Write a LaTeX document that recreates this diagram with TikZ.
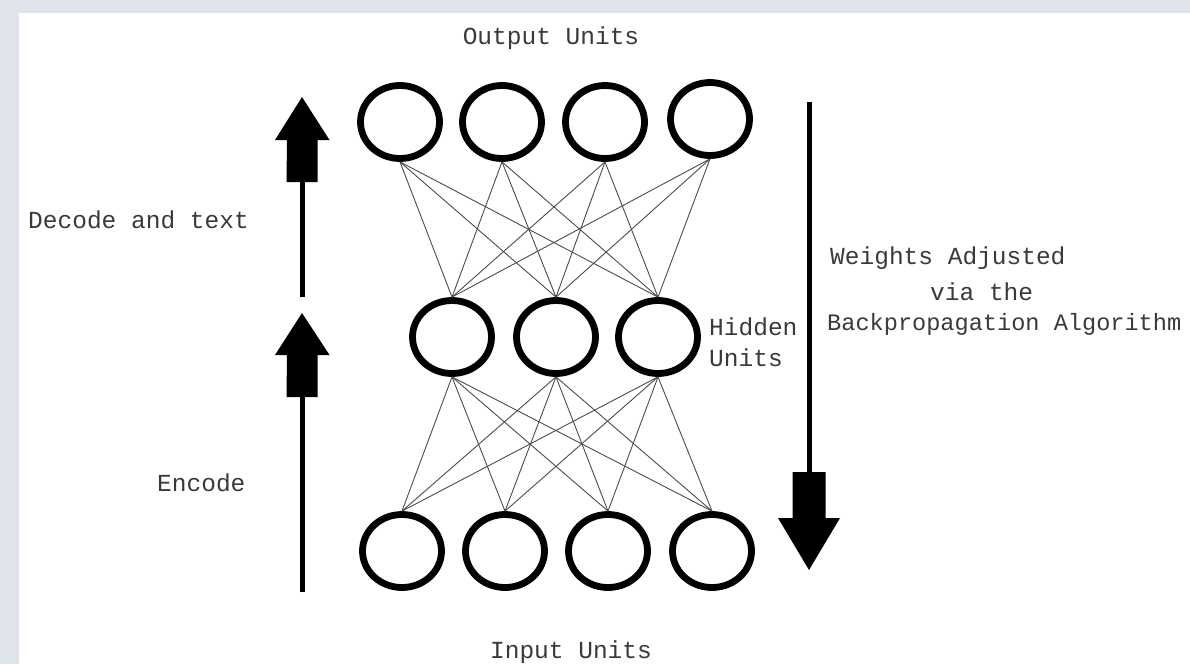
\documentclass[tikz,border=0pt]{standalone}
\usepackage{fontspec}
\setmonofont{Liberation Mono}
\usetikzlibrary{shapes.geometric}
\definecolor{frame}{HTML}{DFE3EC}
\definecolor{txt}{HTML}{3A3A3A}
\tikzset{
  unit/.style={ellipse, draw=black, line width=6.8pt, minimum width=79pt, minimum height=73pt, inner sep=0pt},
  wire/.style={draw=black!70, line width=0.9pt},
  shaft/.style={draw=black, line width=5pt},
  lbl/.style={font=\ttfamily\fontsize{24.5}{28}\selectfont, text=txt, inner sep=0pt},
}
\begin{document}
\begin{tikzpicture}[x=1pt,y=-1pt]
\useasboundingbox (0,0) rectangle (1190,664);
\clip (0,0) rectangle (1190,664);
\fill[frame] (0,0) rectangle (1190,664);
\fill[white] (19,13) rectangle (1190,664);

% units
\node[unit] (o1) at (400,122) {};
\node[unit] (o2) at (502,122) {};
\node[unit] (o3) at (605,122) {};
\node[unit] (o4) at (710,119) {};
\node[unit] (h1) at (452,337) {};
\node[unit] (h2) at (556,337) {};
\node[unit] (h3) at (658,337) {};
\node[unit] (i1) at (402,551) {};
\node[unit] (i2) at (505,551) {};
\node[unit] (i3) at (608,551) {};
\node[unit] (i4) at (712,551) {};

% connections
\foreach \o in {o1,o2,o3,o4}{
  \foreach \h in {h1,h2,h3}{
    \draw[wire] (\o.south) -- (\h.north);
  }
}
\foreach \h in {h1,h2,h3}{
  \foreach \i in {i1,i2,i3,i4}{
    \draw[wire] (\h.south) -- (\i.north);
  }
}

% left arrows
\coordinate (a1s) at (302,297);
\coordinate (a1e) at (302,182);
\draw[shaft] (a1s) -- (a1e);
\fill[black] (a1e) ++(-15.5,0) -- ++(31,0) -- ++(0,-42) -- ++(12,0) -- (302,97) -- (275,140) -- ++(12,0) -- cycle;

\coordinate (a2s) at (302,592);
\coordinate (a2e) at (302,397);
\draw[shaft] (a2s) -- (a2e);
\fill[black] (a2e) ++(-15.5,0) -- ++(31,0) -- ++(0,-42) -- ++(12,0) -- (302,313) -- (275,355) -- ++(12,0) -- cycle;

% right arrow
\coordinate (a3s) at (809,102);
\coordinate (a3e) at (809,472);
\draw[shaft] (a3s) -- (a3e);
\fill[black] (a3e) ++(-16.5,0) -- ++(33,0) -- ++(0,46) -- ++(14.5,0) -- (809,570) -- (778,518) -- ++(14.5,0) -- cycle;

% labels
\node[lbl] (tout) at (551,38) {Output Units};
\node[lbl] (tin) at (571,652) {Input Units};
\node[lbl, anchor=west] (tdec) at (28,220) {Decode and text};
\node[lbl, anchor=west] (tenc) at (157,483) {Encode};
\node[lbl, anchor=west] (thid1) at (709,327) {Hidden};
\node[lbl, anchor=west] (thid2) at (709,358) {Units};
\node[lbl, anchor=west] (tw1) at (830,258) {Weights Adjusted};
\node[lbl, anchor=west] (tw2) at (930,292) {via the};
\node[lbl, anchor=west, font=\ttfamily\fontsize{23.6}{28}\selectfont] (tw3) at (827,324) {Backpropagation Algorithm};
\end{tikzpicture}
\end{document}
